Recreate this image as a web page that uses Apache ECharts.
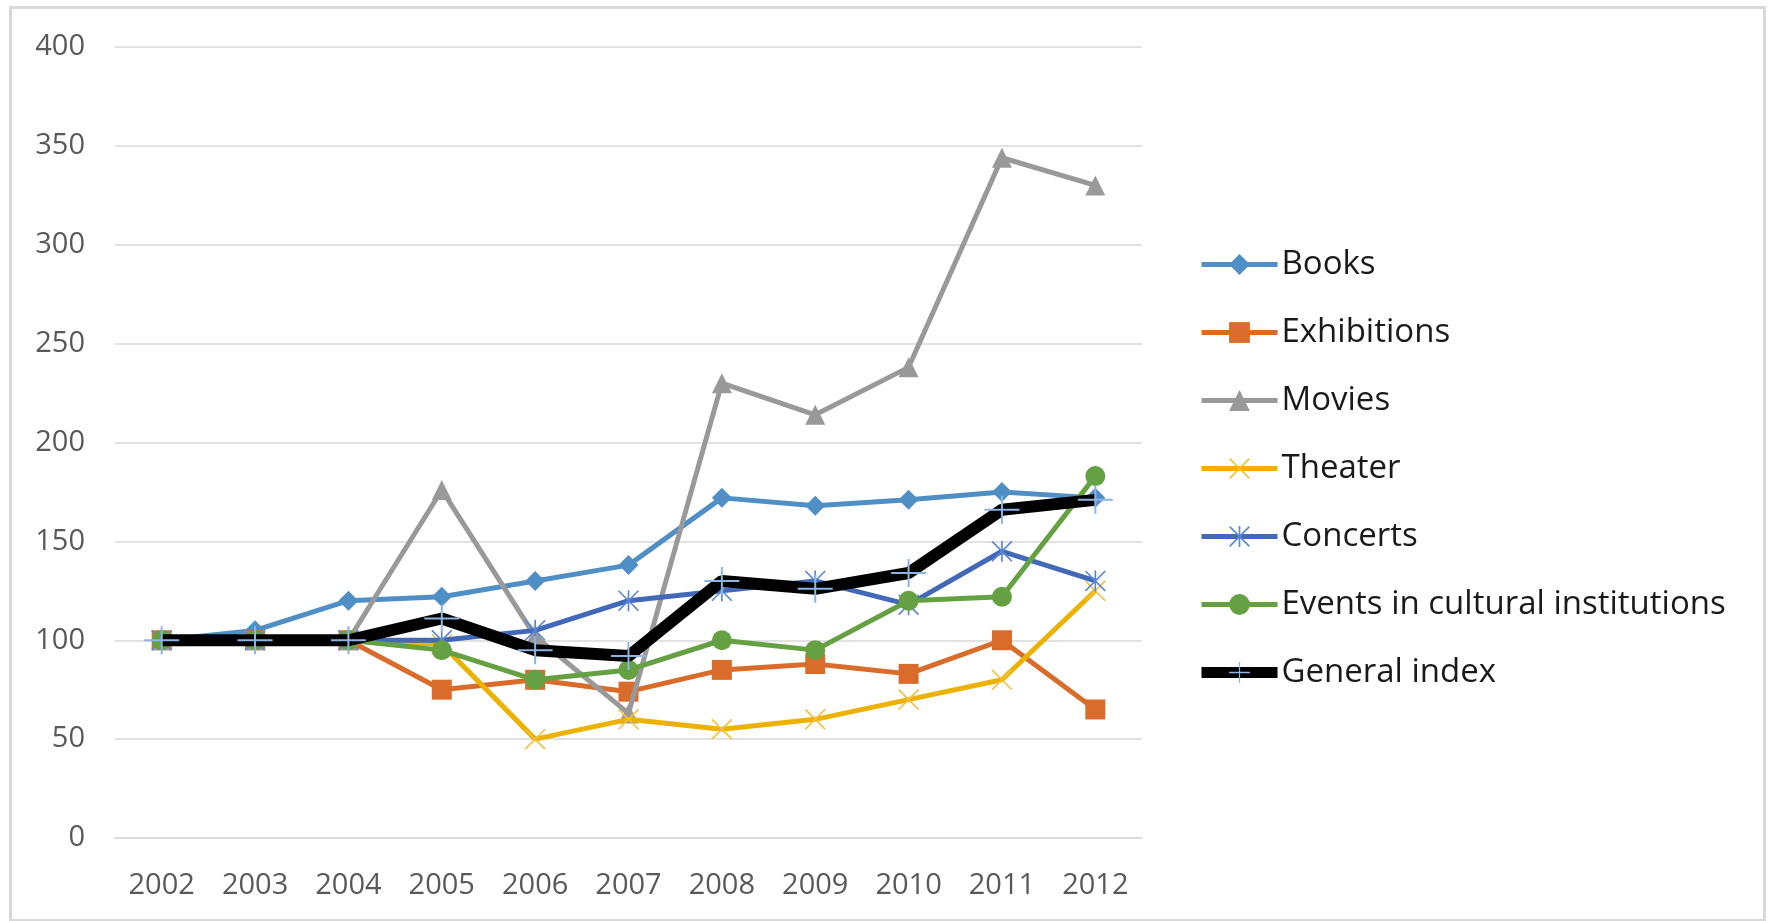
<!DOCTYPE html>
<html>
<head>
<meta charset="utf-8">
<script src="https://cdn.jsdelivr.net/npm/echarts@6/dist/echarts.min.js"></script>
<style>
html,body{margin:0;padding:0;background:#fff;}
#chart{width:1768px;height:921px;}
</style>
</head>
<body>
<div id="chart"></div>
<script>
const years = ['2002','2003','2004','2005','2006','2007','2008','2009','2010','2011','2012'];
const books       = [100, 105, 120, 122, 130, 138, 172, 168, 171, 175, 172];
const exhibitions = [100, 100, 100, 75, 80, 74, 85, 88, 83, 100, 65];
const movies      = [100, 100, 100, 176, 102, 63, 230, 214, 238, 344, 330];
const theater     = [100, 100, 100, 98, 50, 60, 55, 60, 70, 80, 125];
const concerts    = [100, 100, 100, 100, 105, 120, 125, 130, 118, 145, 130];
const events      = [100, 100, 100, 95, 80, 85, 100, 95, 120, 122, 183];
const general     = [100, 100, 100, 111, 95, 92, 130, 126, 134, 166, 171];
const yTicks = {min: 0, max: 400, interval: 50};

const FONT = 'Open Sans';
const plusPath = 'path://M0,13 L35,13 L35,15 L0,15 Z M16.5,0 L18.5,0 L18.5,28 L16.5,28 Z';
const starPath = 'path://M9.2,0 L10.8,0 L10.8,20 L9.2,20 Z M0,1.1 L1.1,0 L20,18.9 L18.9,20 Z M18.9,0 L20,1.1 L1.1,20 L0,18.9 Z';
const xPath = 'path://M0,1.1 L1.1,0 L20,18.9 L18.9,20 Z M18.9,0 L20,1.1 L1.1,20 L0,18.9 Z';

function mk(name, data, color, symbol, size, width, markerColor, z) {
  return {
    name: name, type: 'line', data: data, z: z,
    symbol: symbol, symbolSize: size, showAllSymbol: true,
    lineStyle: {color: color, width: width},
    itemStyle: {color: markerColor || color, borderWidth: 0},
    emphasis: {disabled: true},
    animation: false
  };
}
function leg(name, color, width) {
  return {name: name, lineStyle: {color: color, width: width}};
}

const chart = echarts.init(document.getElementById('chart'), null, {renderer: 'canvas'});
chart.setOption({
  backgroundColor: '#ffffff',
  animation: false,
  graphic: [{
    type: 'rect', left: 8, top: 5, z: -10,
    shape: {width: 1754, height: 913},
    style: {fill: 'none', stroke: '#d9d9d9', lineWidth: 3}
  }],
  grid: {left: 115, right: 626, top: 47, bottom: 83, containLabel: false},
  xAxis: {
    type: 'category', data: years, boundaryGap: true,
    axisLine: {show: true, lineStyle: {color: '#d9d9d9', width: 1.5}},
    axisTick: {show: false},
    axisLabel: {color: '#595959', fontFamily: FONT, fontSize: 29, margin: 33}
  },
  yAxis: {
    type: 'value', min: yTicks.min, max: yTicks.max, interval: yTicks.interval,
    axisLine: {show: false}, axisTick: {show: false},
    axisLabel: {color: '#595959', fontFamily: FONT, fontSize: 29, margin: 30},
    splitLine: {lineStyle: {color: '#d9d9d9', width: 1.5}}
  },
  legend: {
    orient: 'vertical', left: 1191, top: 243,
    itemWidth: 76, itemHeight: 26, itemGap: 35,
    textStyle: {color: '#1a1a1a', fontFamily: FONT, fontSize: 33, padding: [0,0,0,-1]},
    data: [
      leg('Books', '#4f8fc6', 5),
      leg('Exhibitions', '#d96c2a', 5),
      leg('Movies', '#999999', 5),
      leg('Theater', '#edb100', 5),
      leg('Concerts', '#4169b8', 5),
      leg('Events in cultural institutions', '#65a043', 5),
      leg('General index', '#000000', 11)
    ]
  },
  series: [
    mk('Books', books, '#4f8fc6', 'diamond', 20, 5, null, 2),
    mk('Exhibitions', exhibitions, '#d96c2a', 'rect', 20, 5, null, 3),
    mk('Movies', movies, '#999999', 'triangle', 20, 5, null, 4),
    mk('Theater', theater, '#edb100', xPath, 21, 5, '#f2c040', 5),
    mk('Concerts', concerts, '#4169b8', starPath, 21, 5, '#5b86d6', 6),
    mk('Events in cultural institutions', events, '#65a043', 'circle', 20, 5, null, 7),
    mk('General index', general, '#000000', plusPath, [35,28], 12, '#8db4e2', 8)
  ]
});
</script>
</body>
</html>
